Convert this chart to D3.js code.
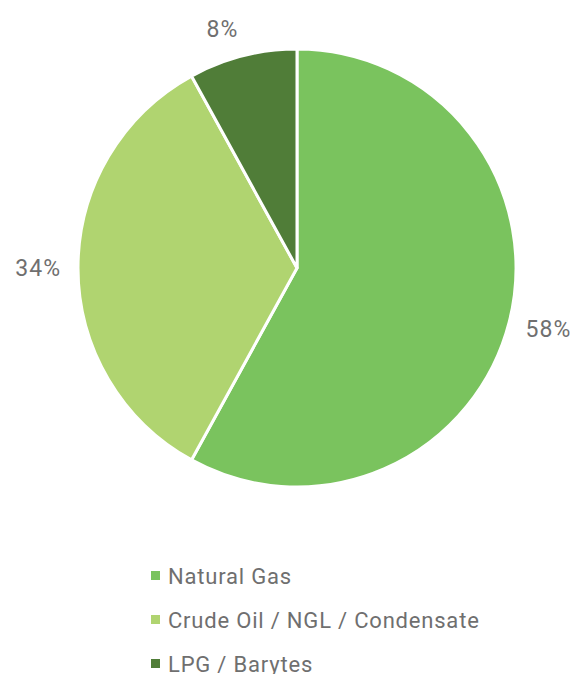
<!DOCTYPE html>
<html>
<head>
<meta charset="utf-8">
<script src="https://cdn.jsdelivr.net/npm/d3@7"></script>
<style>
  body { margin: 0; background: #fff; }
  text { font-family: Roboto, "Open Sans", sans-serif; fill: #6f6f6f; }
</style>
</head>
<body>
<div id="chart"></div>
<script>
// shares of production
const categories = ['Natural Gas', 'Crude Oil / NGL / Condensate', 'LPG / Barytes'];
const values = [58, 34, 8];
const colors = ['#7ac35e', '#b0d470', '#507d38'];

const width = 577;
const height = 674;
const cx = 297, cy = 268, radius = 219;

const svg = d3.select('#chart')
    .append('svg')
    .attr('width', width)
    .attr('height', height);

const data = categories.map((c, i) => ({ key: c, value: values[i], color: colors[i] }));

const pie = d3.pie().sort(null).value(d => d.value);
const arc = d3.arc().innerRadius(0).outerRadius(radius);

const g = svg.append('g').attr('transform', `translate(${cx},${cy})`);

const arcs = pie(data);

g.selectAll('path')
    .data(arcs)
    .enter()
    .append('path')
    .attr('d', arc)
    .attr('fill', d => d.data.color)
    .attr('stroke', '#fff')
    .attr('stroke-width', 3)
    .attr('stroke-linejoin', 'round');

// labels outside, anchored by side
g.selectAll('text.pct')
    .data(arcs)
    .enter()
    .append('text')
    .attr('class', 'pct')
    .each(function (d) {
        const a = (d.startAngle + d.endAngle) / 2;
        const s = Math.sin(a), c = Math.cos(a);
        const x = 236 * s;
        const y = -247 * c;
        d3.select(this)
            .attr('x', x)
            .attr('y', y)
            .attr('dy', '0.35em')
            .attr('text-anchor', Math.abs(s) < 0.05 ? 'middle' : (s > 0 ? 'start' : 'end'));
    })
    .style('font-size', '23px')
    .style('letter-spacing', '1px')
    .text(d => d.data.value + '%');

// legend
const legend = svg.append('g').attr('transform', 'translate(151,576)');
const rows = legend.selectAll('g')
    .data(data)
    .enter()
    .append('g')
    .attr('transform', (d, i) => `translate(0,${i * 44})`);

rows.append('rect')
    .attr('x', 0)
    .attr('y', -5)
    .attr('width', 9)
    .attr('height', 9)
    .attr('fill', d => d.color);

rows.append('text')
    .attr('x', 17)
    .attr('y', 0)
    .attr('dy', '0.35em')
    .style('font-size', '22px')
    .style('letter-spacing', '0.8px')
    .text(d => d.key);
</script>
</body>
</html>
